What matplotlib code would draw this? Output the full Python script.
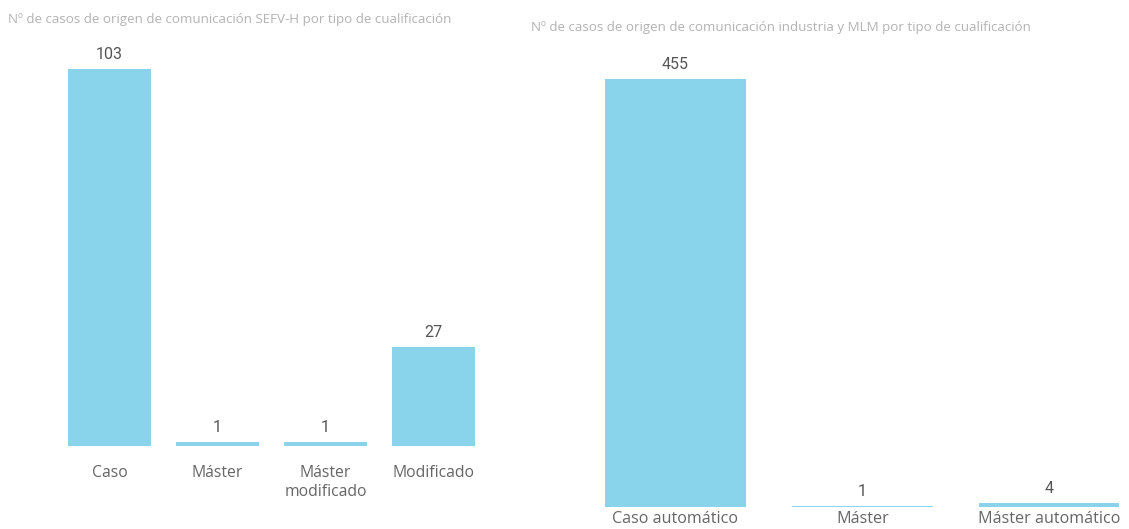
import matplotlib
matplotlib.use("Agg")
import matplotlib.pyplot as plt

# Cases from SEFV-H notifications, by qualification type
left_title = "Nº de casos de origen de comunicación SEFV-H por tipo de cualificación"
left_categories = ["Caso", "Máster", "Máster\nmodificado", "Modificado"]
left_values = [103, 1, 1, 27]

# Cases from industry and MLM notifications, by qualification type
right_title = "Nº de casos de origen de comunicación industria y MLM por tipo de cualificación"
right_categories = ["Caso automático", "Máster", "Máster automático"]
right_values = [455, 1, 4]

W, H = 1129, 529
DPI = 100
BAR_COLOR = "#8AD4EB"
TITLE_COLOR = "#b3b3b3"
VALUE_COLOR = "#555555"
CAT_COLOR = "#666666"
LABEL_FONT = ["Open Sans", "DejaVu Sans"]
VALUE_FONT = ["Roboto", "DejaVu Sans"]

fig = plt.figure(figsize=(W / DPI, H / DPI), dpi=DPI)
fig.patch.set_facecolor("white")


def px_axes(x0, x1, y_top, y_base):
    """Create axes from pixel coordinates (origin top-left)."""
    return fig.add_axes([x0 / W, (H - y_base) / H, (x1 - x0) / W, (y_base - y_top) / H])


def draw(ax, cats, vals, width, cat_size, cat_pad, val_size):
    xs = range(len(cats))
    ax.bar(xs, vals, width=width, color=BAR_COLOR, linewidth=0)
    ax.set_ylim(0, max(vals))
    for x, v in zip(xs, vals):
        ax.annotate(f"{v}", (x, v), xytext=(0, 5), textcoords="offset points",
                    ha="center", va="bottom", fontsize=val_size, color=VALUE_COLOR,
                    family=VALUE_FONT, annotation_clip=False)
    ax.set_xticks(list(xs))
    ax.set_xticklabels(cats, fontsize=cat_size, color=CAT_COLOR, family=LABEL_FONT,
                       linespacing=1.25)
    ax.tick_params(axis="x", length=0, pad=cat_pad)
    ax.set_yticks([])
    for s in ax.spines.values():
        s.set_visible(False)


# Left chart: bar centres 109.5 .. 433.5 px, spacing 108 px
axL = px_axes(55.5, 487.5, 69, 446)
draw(axL, left_categories, left_values, 0.77, 11.3, 14, 11.5)
axL.set_xlim(-0.5, 3.5)
fig.text(8 / W, 1 - 19 / H, left_title, fontsize=9.6, color=TITLE_COLOR,
         family=LABEL_FONT, ha="left", va="center")

# Right chart: bar centres 675.5 .. 1049 px, spacing 186.75 px
axR = px_axes(600, 1125, 79, 507)
draw(axR, right_categories, right_values, 0.755, 11.6, 3, 11.5)
axR.set_xlim((600 - 675.5) / 186.75, (1125 - 675.5) / 186.75)
fig.text(531 / W, 1 - 28 / H, right_title, fontsize=9.6, color=TITLE_COLOR,
         family=LABEL_FONT, ha="left", va="center")

fig.savefig("out.png", dpi=DPI, facecolor="white")
